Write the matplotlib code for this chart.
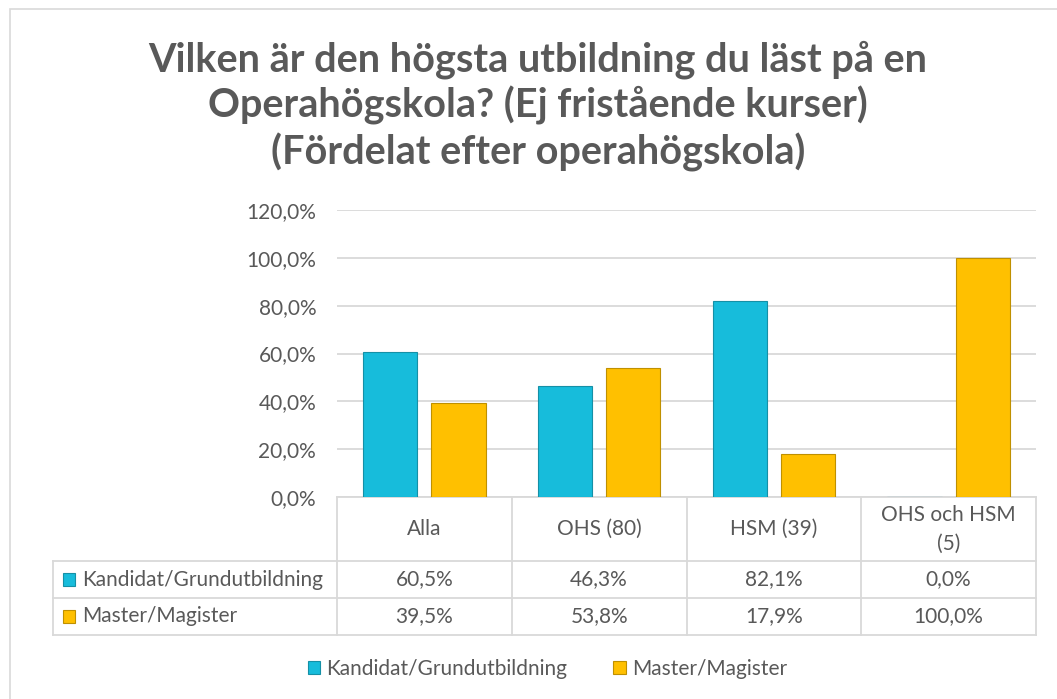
import matplotlib.pyplot as plt
import matplotlib.transforms as mtransforms
from matplotlib.patches import Patch, Rectangle
import numpy as np

plt.rcParams['font.family'] = ['Lato', 'DejaVu Sans']

categories = ['Alla', 'OHS (80)', 'HSM (39)', 'OHS och HSM\n(5)']
series_names = ['Kandidat/Grundutbildning', 'Master/Magister']
kandidat = [60.5, 46.3, 82.1, 0.0]
master = [39.5, 53.8, 17.9, 100.0]
yticks = [0, 20, 40, 60, 80, 100, 120]

txt = '#595959'
grid = '#D9D9D9'
colors = ['#17BCDB', '#FFC000']
edges = ['#1590A6', '#BF9000']
fs = 15

fig = plt.figure(figsize=(10.57, 6.99), dpi=100)
# chart border
fig.patches.append(Rectangle((10 / 1057, -0.1), 1.2, 1 - 9 / 699 + 0.1, transform=fig.transFigure,
                             fill=False, edgecolor='#D9D9D9', linewidth=1.2))

fig.text(0.509, 1 - 106 / 699,
         'Vilken är den högsta utbildning du läst på en\nOperahögskola? (Ej fristående kurser)\n(Fördelat efter operahögskola)',
         ha='center', va='center', fontsize=28.5, fontweight='bold', color=txt, linespacing=1.24)

ax = fig.add_axes([337 / 1057, 202 / 699, 699 / 1057, 287 / 699])
x = np.arange(len(categories))
w = 0.31
off = 0.195
ax.bar(x - off, kandidat, w, color=colors[0], edgecolor=edges[0], linewidth=0.8, zorder=3)
ax.bar(x + off, master, w, color=colors[1], edgecolor=edges[1], linewidth=0.8, zorder=3)
ax.set_xlim(-0.5, len(categories) - 0.5)
ax.set_ylim(0, 120)
ax.set_yticks(yticks)
ax.set_yticklabels([f'{v:.1f}%'.replace('.', ',') for v in yticks], fontsize=fs, color=txt)
ax.set_xticks([])
ax.tick_params(axis='y', length=0, pad=15)
for s in ax.spines.values():
    s.set_visible(False)
ax.yaxis.grid(True, color=grid, linewidth=1.3, zorder=0)

# data table
tr = mtransforms.blended_transform_factory(ax.transData, ax.transAxes)
h0 = 0.0
h1 = -64 / 287
h2 = -101 / 287
h3 = -138 / 287
xl = -0.5 + (53 - 337) / 174.75
n = len(categories)
lk = dict(color=grid, linewidth=1.3, transform=tr, clip_on=False)
ax.plot([-0.5, n - 0.5], [h0, h0], **lk)
for hy in (h1, h2, h3):
    ax.plot([xl, n - 0.5], [hy, hy], **lk)
ax.plot([xl, xl], [h1, h3], **lk)
for i in range(n + 1):
    ax.plot([i - 0.5, i - 0.5], [h0, h3], **lk)
for i, c in enumerate(categories):
    ax.text(i, (h0 + h1) / 2, c, ha='center', va='center', fontsize=fs, color=txt,
            transform=tr, linespacing=1.55)
for r, (vals, hy_top, hy_bot) in enumerate([(kandidat, h1, h2), (master, h2, h3)]):
    ym = (hy_top + hy_bot) / 2
    for i, v in enumerate(vals):
        ax.text(i, ym, f'{v:.1f}%'.replace('.', ','), ha='center', va='center', fontsize=fs,
                color=txt, transform=tr)
    ax.add_patch(Rectangle((xl + 0.057, ym - 0.021), 0.068, 0.042, transform=tr, clip_on=False,
                           facecolor=colors[r], edgecolor=edges[r], linewidth=0.8))
    ax.text(xl + 0.165, ym, series_names[r], ha='left', va='center', fontsize=fs,
            color=txt, transform=tr)

handles = [Patch(facecolor=colors[i], edgecolor=edges[i], linewidth=0.8) for i in range(2)]
fig.legend(handles, series_names, loc='center', bbox_to_anchor=(0.518, 1 - 669 / 699), ncol=2,
           frameon=False, fontsize=fs, labelcolor=txt, handlelength=0.6, handleheight=0.6,
           handletextpad=0.3, columnspacing=2.2)

fig.savefig('out.png', dpi=100)
